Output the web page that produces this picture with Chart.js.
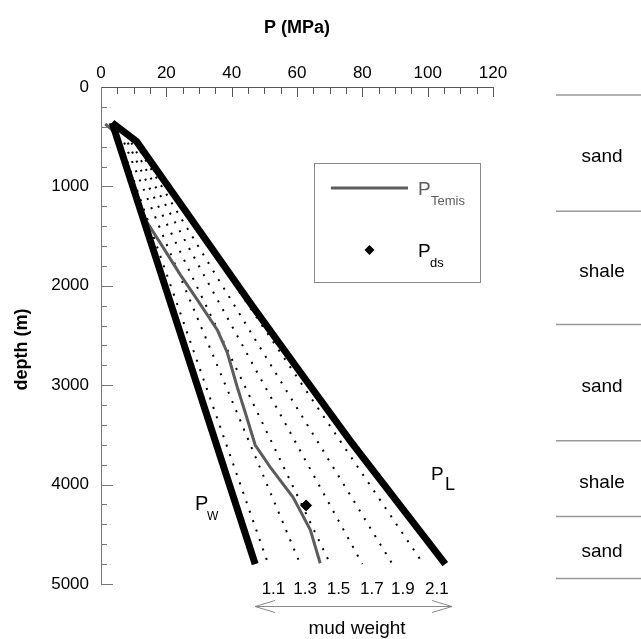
<!DOCTYPE html>
<html>
<head>
<meta charset="utf-8">
<script src="https://cdn.jsdelivr.net/npm/chart.js@4.4.0/dist/chart.umd.min.js"></script>
<style>
  body { margin: 0; background: #fff; }
  #wrap { width: 641px; height: 639px; }
</style>
</head>
<body>
<div id="wrap"><canvas id="chart" width="641" height="639"></canvas></div>
<script>
// Pressure (MPa) vs depth (m)

// P_W - lower bound
const wellDepth = [360, 4800];
const pW = [3.4, 47.2];

// P_L - upper bound
const limitDepth = [360, 548, 2210, 2915, 3560, 4800];
const pL = [3.4, 10.9, 46.5, 62.0, 76.3, 105.4];

// P_Temis - modelled pore pressure
const temisDepth = [370, 460, 1250, 1367, 1618, 1890, 2142, 2444, 2676, 3018, 3280, 3602, 3824, 4127, 4227, 4458, 4791];
const pTemis = [1.3, 4.3, 12.2, 14.2, 19.1, 24.3, 29.5, 35.6, 38.7, 41.7, 44.2, 47.2, 51.8, 58.8, 60.4, 64.1, 67.1];

// P_ds - single measurement
const dsDepth = [4210];
const pDs = [62.8];

// mud weight lines: pressure at top and bottom of each dotted line
const mudWeights = ['1.1', '1.3', '1.5', '1.7', '1.9', '2.1'];
const mudDepth = [560, 4800];
const mudTopP = [6.0, 7.1, 8.2, 9.3, 10.4, 11.5];
const mudBottomP = [51.2, 61.0, 70.2, 80.0, 89.2, 98.7];
const mudLabelP = [52.8, 62.5, 72.7, 82.9, 92.4, 102.8];

const xTicks = [0, 20, 40, 60, 80, 100, 120];
const yTicks = [0, 1000, 2000, 3000, 4000, 5000];

// lithology column on the right
const lithoTops = [80, 1250, 2390, 3560, 4320, 4945];
const lithoNames = ['sand', 'shale', 'sand', 'shale', 'sand'];

const FONT = '"Liberation Sans", Arial, Helvetica, sans-serif';

const pts = (xs, ys) => xs.map((v, i) => ({ x: v, y: ys[i] }));

const datasets = [
    {
        label: 'P ds',
        data: pts(pDs, dsDepth),
        showLine: false,
        pointStyle: 'rectRot',
        pointRadius: 5.5,
        backgroundColor: '#000',
        borderColor: '#000'
    },
    {
        label: 'P W',
        data: pts(pW, wellDepth),
        showLine: true,
        borderColor: '#000',
        borderWidth: 7,
        pointRadius: 0
    },
    {
        label: 'P L',
        data: pts(pL, limitDepth),
        showLine: true,
        borderColor: '#000',
        borderWidth: 7,
        pointRadius: 0
    },
    {
        label: 'P Temis',
        data: pts(pTemis, temisDepth),
        showLine: true,
        borderColor: '#5c5c5c',
        borderWidth: 3,
        pointRadius: 0
    }
];

mudWeights.forEach((mw, i) => {
    datasets.push({
        label: 'mud ' + mw,
        data: [{ x: mudTopP[i], y: mudDepth[0] }, { x: mudBottomP[i], y: mudDepth[1] }],
        showLine: true,
        borderColor: '#000',
        borderWidth: 2,
        borderDash: [2, 8],
        pointRadius: 0
    });
});

// Sub-scripted label like P_L
function subLabel(ctx, main, sub, x0, base, mainSize, subSize, subX, subBase, color) {
    ctx.fillStyle = color;
    ctx.textAlign = 'left';
    ctx.textBaseline = 'alphabetic';
    ctx.font = mainSize + 'px ' + FONT;
    ctx.fillText(main, x0, base);
    ctx.font = subSize + 'px ' + FONT;
    ctx.fillText(sub, subX, subBase);
}

const decor = {
    id: 'decor',
    afterDraw(chart) {
        const ctx = chart.ctx;
        const xs = chart.scales.x;
        const ys = chart.scales.y;
        const px = v => xs.getPixelForValue(v);
        const py = d => ys.getPixelForValue(d);

        ctx.save();

        // inward ticks on the top axis
        ctx.strokeStyle = '#555';
        ctx.lineWidth = 1;
        ctx.beginPath();
        for (let v = 5; v <= 120; v += 5) {
            const len = v % 20 === 0 ? 10 : 7;
            const xx = Math.round(px(v)) + 0.5;
            ctx.moveTo(xx, ys.top);
            ctx.lineTo(xx, ys.top + len);
        }
        ctx.stroke();

        // inward ticks on the depth axis
        ctx.strokeStyle = '#777';
        ctx.beginPath();
        for (let d = 200; d <= 5000; d += 200) {
            const len = d % 1000 === 0 ? 12 : 6;
            const yy = Math.round(py(d)) + 0.5;
            ctx.moveTo(xs.left, yy);
            ctx.lineTo(xs.left + len, yy);
        }
        ctx.stroke();

        // depth axis title
        ctx.save();
        ctx.translate(22, (ys.top + ys.bottom) / 2 + 14);
        ctx.rotate(-Math.PI / 2);
        ctx.fillStyle = '#000';
        ctx.font = 'bold 18px ' + FONT;
        ctx.textAlign = 'center';
        ctx.textBaseline = 'middle';
        ctx.fillText('depth (m)', 0, 0);
        ctx.restore();

        // legend box
        ctx.strokeStyle = '#888';
        ctx.lineWidth = 1;
        ctx.strokeRect(314.5, 163.5, 166, 119);
        ctx.strokeStyle = '#5c5c5c';
        ctx.lineWidth = 3;
        ctx.beginPath();
        ctx.moveTo(331, 188);
        ctx.lineTo(408, 188);
        ctx.stroke();
        subLabel(ctx, 'P', 'Temis', 418, 195, 19, 13, 431, 205, '#5c5c5c');

        ctx.fillStyle = '#000';
        ctx.beginPath();
        ctx.moveTo(369.5, 245);
        ctx.lineTo(374.5, 250);
        ctx.lineTo(369.5, 255);
        ctx.lineTo(364.5, 250);
        ctx.closePath();
        ctx.fill();
        subLabel(ctx, 'P', 'ds', 418, 257, 19, 13, 430, 267, '#000');

        // curve labels
        subLabel(ctx, 'P', 'W', 195, 510, 20, 12, 207, 520, '#000');
        subLabel(ctx, 'P', 'L', 431, 480, 19, 18, 445, 490, '#000');

        // mud weight scale below the plot
        ctx.fillStyle = '#000';
        ctx.font = '17px ' + FONT;
        ctx.textAlign = 'center';
        ctx.textBaseline = 'alphabetic';
        mudWeights.forEach((mw, i) => {
            ctx.fillText(mw, px(mudLabelP[i]), 594);
        });

        ctx.strokeStyle = '#888';
        ctx.lineWidth = 1;
        ctx.beginPath();
        ctx.moveTo(255, 606.5);
        ctx.lineTo(452, 606.5);
        ctx.moveTo(275, 600.5);
        ctx.lineTo(255, 606.5);
        ctx.lineTo(275, 612.5);
        ctx.moveTo(432, 600.5);
        ctx.lineTo(452, 606.5);
        ctx.lineTo(432, 612.5);
        ctx.stroke();

        ctx.fillStyle = '#000';
        ctx.font = '19px ' + FONT;
        ctx.fillText('mud weight', 357, 634);

        // lithology column
        ctx.strokeStyle = '#999';
        ctx.lineWidth = 1.5;
        ctx.beginPath();
        lithoTops.forEach(d => {
            const yy = py(d);
            ctx.moveTo(556, yy);
            ctx.lineTo(641, yy);
        });
        ctx.stroke();
        ctx.fillStyle = '#000';
        ctx.font = '19px ' + FONT;
        ctx.textAlign = 'center';
        ctx.textBaseline = 'middle';
        lithoNames.forEach((name, i) => {
            const mid = (py(lithoTops[i]) + py(lithoTops[i + 1])) / 2;
            ctx.fillText(name, 602, mid + 4);
        });

        ctx.restore();
    }
};

new Chart(document.getElementById('chart'), {
    type: 'scatter',
    data: { datasets: datasets },
    options: {
        responsive: false,
        animation: false,
        layout: { padding: { left: 0, top: 0, right: 148, bottom: 55 } },
        plugins: {
            legend: { display: false },
            tooltip: { enabled: false }
        },
        scales: {
            x: {
                type: 'linear',
                position: 'top',
                min: 0,
                max: 120,
                afterBuildTicks: scale => { scale.ticks = xTicks.map(v => ({ value: v })); },
                afterFit: scale => { scale.height = 87; },
                ticks: {
                    color: '#000',
                    font: { family: FONT, size: 17 },
                    padding: 3,
                    maxRotation: 0,
                    callback: v => String(v)
                },
                grid: { display: false, drawTicks: false },
                border: { display: true, color: '#555', width: 1 },
                title: {
                    display: true,
                    text: 'P (MPa)',
                    color: '#000',
                    font: { family: FONT, size: 18, weight: 'bold' },
                    padding: { top: 17, bottom: 0 }
                }
            },
            y: {
                type: 'linear',
                reverse: true,
                min: 0,
                max: 5000,
                afterBuildTicks: scale => { scale.ticks = yTicks.map(v => ({ value: v })); },
                afterFit: scale => { scale.width = 101; },
                ticks: {
                    color: '#000',
                    font: { family: FONT, size: 17 },
                    padding: 12,
                    callback: v => String(v)
                },
                grid: { display: false, drawTicks: false },
                border: { display: true, color: '#777', width: 1 }
            }
        }
    },
    plugins: [decor]
});
</script>
</body>
</html>
